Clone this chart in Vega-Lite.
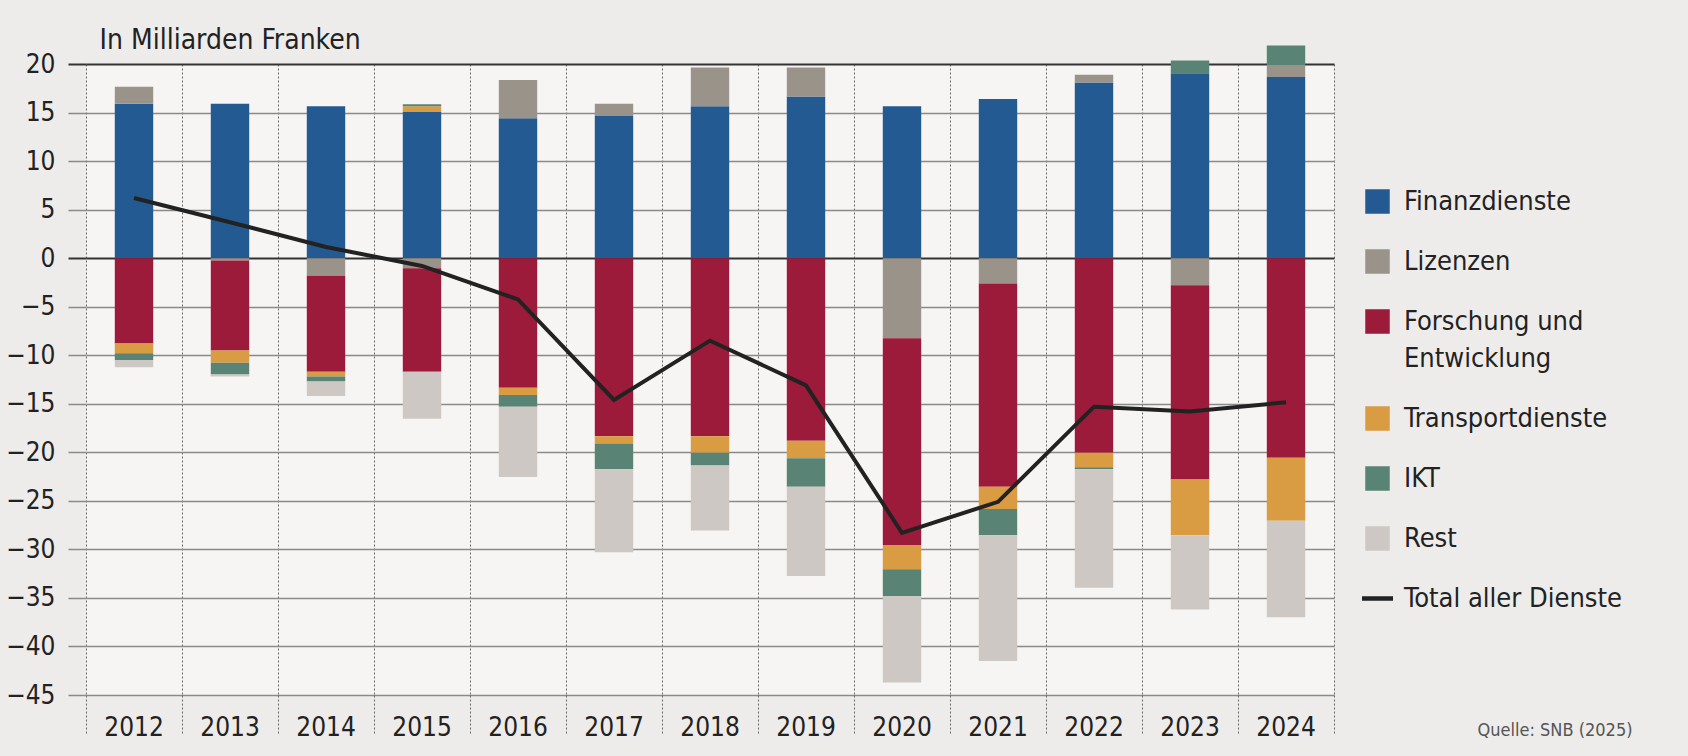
{
  "$schema": "https://vega.github.io/schema/vega-lite/v6.json",
  "width": 1248,
  "height": 631,
  "autosize": {"type": "none"},
  "padding": {"left": 86, "top": 64, "right": 354, "bottom": 61},
  "background": "#eeecea",
  "config": {
    "font": "DejaVu Sans Condensed, DejaVu Sans, sans-serif",
    "view": {"fill": "#f6f5f3", "stroke": null}
  },
  "datasets": {
    "bars": [
      {"year": "2012", "category": "Finanzdienste", "value": 15.9},
      {"year": "2012", "category": "Lizenzen", "value": 1.75},
      {"year": "2012", "category": "Forschung und Entwicklung", "value": -8.8},
      {"year": "2012", "category": "Transportdienste", "value": -1.0},
      {"year": "2012", "category": "IKT", "value": -0.7},
      {"year": "2012", "category": "Rest", "value": -0.75},
      {"year": "2013", "category": "Finanzdienste", "value": 15.9},
      {"year": "2013", "category": "Lizenzen", "value": -0.25},
      {"year": "2013", "category": "Forschung und Entwicklung", "value": -9.25},
      {"year": "2013", "category": "Transportdienste", "value": -1.28},
      {"year": "2013", "category": "IKT", "value": -1.2},
      {"year": "2013", "category": "Rest", "value": -0.2},
      {"year": "2014", "category": "Finanzdienste", "value": 15.65},
      {"year": "2014", "category": "Lizenzen", "value": -1.8},
      {"year": "2014", "category": "Forschung und Entwicklung", "value": -9.9},
      {"year": "2014", "category": "Transportdienste", "value": -0.5},
      {"year": "2014", "category": "IKT", "value": -0.5},
      {"year": "2014", "category": "Rest", "value": -1.5},
      {"year": "2015", "category": "Finanzdienste", "value": 15.1},
      {"year": "2015", "category": "Transportdienste", "value": 0.55},
      {"year": "2015", "category": "IKT", "value": 0.2},
      {"year": "2015", "category": "Lizenzen", "value": -1.05},
      {"year": "2015", "category": "Forschung und Entwicklung", "value": -10.65},
      {"year": "2015", "category": "Rest", "value": -4.85},
      {"year": "2016", "category": "Finanzdienste", "value": 14.4},
      {"year": "2016", "category": "Lizenzen", "value": 3.95},
      {"year": "2016", "category": "Forschung und Entwicklung", "value": -13.35},
      {"year": "2016", "category": "Transportdienste", "value": -0.75},
      {"year": "2016", "category": "IKT", "value": -1.2},
      {"year": "2016", "category": "Rest", "value": -7.25},
      {"year": "2017", "category": "Finanzdienste", "value": 14.65},
      {"year": "2017", "category": "Lizenzen", "value": 1.25},
      {"year": "2017", "category": "Forschung und Entwicklung", "value": -18.35},
      {"year": "2017", "category": "Transportdienste", "value": -0.75},
      {"year": "2017", "category": "IKT", "value": -2.65},
      {"year": "2017", "category": "Rest", "value": -8.55},
      {"year": "2018", "category": "Finanzdienste", "value": 15.65},
      {"year": "2018", "category": "Lizenzen", "value": 4.0},
      {"year": "2018", "category": "Forschung und Entwicklung", "value": -18.35},
      {"year": "2018", "category": "Transportdienste", "value": -1.7},
      {"year": "2018", "category": "IKT", "value": -1.3},
      {"year": "2018", "category": "Rest", "value": -6.7},
      {"year": "2019", "category": "Finanzdienste", "value": 16.65},
      {"year": "2019", "category": "Lizenzen", "value": 3.0},
      {"year": "2019", "category": "Forschung und Entwicklung", "value": -18.8},
      {"year": "2019", "category": "Transportdienste", "value": -1.8},
      {"year": "2019", "category": "IKT", "value": -2.95},
      {"year": "2019", "category": "Rest", "value": -9.2},
      {"year": "2020", "category": "Finanzdienste", "value": 15.65},
      {"year": "2020", "category": "Lizenzen", "value": -8.25},
      {"year": "2020", "category": "Forschung und Entwicklung", "value": -21.3},
      {"year": "2020", "category": "Transportdienste", "value": -2.5},
      {"year": "2020", "category": "IKT", "value": -2.75},
      {"year": "2020", "category": "Rest", "value": -8.9},
      {"year": "2021", "category": "Finanzdienste", "value": 16.4},
      {"year": "2021", "category": "Lizenzen", "value": -2.6},
      {"year": "2021", "category": "Forschung und Entwicklung", "value": -20.95},
      {"year": "2021", "category": "Transportdienste", "value": -2.3},
      {"year": "2021", "category": "IKT", "value": -2.7},
      {"year": "2021", "category": "Rest", "value": -12.95},
      {"year": "2022", "category": "Finanzdienste", "value": 18.1},
      {"year": "2022", "category": "Lizenzen", "value": 0.8},
      {"year": "2022", "category": "Forschung und Entwicklung", "value": -20.05},
      {"year": "2022", "category": "Transportdienste", "value": -1.5},
      {"year": "2022", "category": "IKT", "value": -0.2},
      {"year": "2022", "category": "Rest", "value": -12.2},
      {"year": "2023", "category": "Finanzdienste", "value": 19.05},
      {"year": "2023", "category": "IKT", "value": 1.3},
      {"year": "2023", "category": "Lizenzen", "value": -2.8},
      {"year": "2023", "category": "Forschung und Entwicklung", "value": -20.0},
      {"year": "2023", "category": "Transportdienste", "value": -5.75},
      {"year": "2023", "category": "Rest", "value": -7.65},
      {"year": "2024", "category": "Finanzdienste", "value": 18.65},
      {"year": "2024", "category": "Lizenzen", "value": 1.25},
      {"year": "2024", "category": "IKT", "value": 2.0},
      {"year": "2024", "category": "Forschung und Entwicklung", "value": -20.55},
      {"year": "2024", "category": "Transportdienste", "value": -6.5},
      {"year": "2024", "category": "Rest", "value": -9.95}
    ],
    "total": [
      {"year": "2012", "total": 6.2},
      {"year": "2013", "total": 3.7},
      {"year": "2014", "total": 1.15},
      {"year": "2015", "total": -0.8},
      {"year": "2016", "total": -4.25},
      {"year": "2017", "total": -14.6},
      {"year": "2018", "total": -8.5},
      {"year": "2019", "total": -13.1},
      {"year": "2020", "total": -28.3},
      {"year": "2021", "total": -25.1},
      {"year": "2022", "total": -15.3},
      {"year": "2023", "total": -15.8},
      {"year": "2024", "total": -14.85}
    ]
  },
  "layer": [
    {
      "data": {"name": "bars"},
      "transform": [
        {"calculate": "indexof(['Finanzdienste', 'Lizenzen', 'Forschung und Entwicklung', 'Transportdienste', 'IKT', 'Rest'], datum.category)", "as": "stackOrder"}
      ],
      "mark": {"type": "bar", "width": {"band": 0.4}},
      "encoding": {
        "x": {
          "field": "year",
          "type": "ordinal",
          "scale": {"paddingInner": 0, "paddingOuter": 0},
          "axis": {
            "title": "Quelle: SNB (2025)",
            "titleX": 1546,
            "titleY": 40,
            "titleAlign": "right",
            "titleAnchor": null,
            "titleBaseline": "alphabetic",
            "titleFontSize": 18,
            "titleFontWeight": "normal",
            "titleColor": "#555555",
            "labelAngle": 0,
            "labelFontSize": 26,
            "labelColor": "#222222",
            "labelBaseline": "alphabetic",
            "labelPadding": 0,
            "domain": false,
            "grid": true,
            "gridColor": "#666666",
            "gridDash": [2, 2],
            "gridWidth": 1,
            "ticks": true,
            "tickSize": 40,
            "tickColor": "#666666",
            "tickDash": [2, 2],
            "tickWidth": 1,
            "bandPosition": 1,
            "tickExtra": true
          }
        },
        "y": {
          "field": "value",
          "type": "quantitative",
          "stack": "zero",
          "scale": {"domain": [-45, 20], "nice": false, "zero": false},
          "axis": {
            "title": "In Milliarden Franken",
            "titleAngle": 0,
            "titleX": 13,
            "titleY": -16,
            "titleAlign": "left",
            "titleAnchor": null,
            "titleBaseline": "alphabetic",
            "titleFontSize": 28,
            "titleFontWeight": "normal",
            "titleColor": "#222222",
            "values": [-45, -40, -35, -30, -25, -20, -15, -10, -5, 0, 5, 10, 15, 20],
            "format": "d",
            "labelExpr": "replace(datum.label, '-', '–')",
            "labelFontSize": 26,
            "labelColor": "#222222",
            "labelPadding": 13,
            "domain": false,
            "grid": true,
            "gridColor": {"condition": {"test": "datum.value === 0 || datum.value === 20", "value": "#333333"}, "value": "#8a8a8a"},
            "gridWidth": {"condition": {"test": "datum.value === 0 || datum.value === 20", "value": 2}, "value": 1.5},
            "ticks": true,
            "tickSize": 18,
            "tickColor": {"condition": {"test": "datum.value === 0 || datum.value === 20", "value": "#333333"}, "value": "#8a8a8a"},
            "tickWidth": {"condition": {"test": "datum.value === 0 || datum.value === 20", "value": 2}, "value": 1.5}
          }
        },
        "color": {
          "field": "category",
          "type": "nominal",
          "scale": {
            "domain": ["Finanzdienste", "Lizenzen", "Forschung und Entwicklung", "Transportdienste", "IKT", "Rest", "Total aller Dienste"],
            "range": ["#245a92", "#9a9389", "#9c1a3a", "#d99c43", "#588375", "#cdc8c3", "#222222"]
          },
          "legend": {
            "title": null,
            "orient": "none",
            "legendX": 1278,
            "legendY": 124,
            "padding": 0,
            "symbolType": "square",
            "symbolSize": 600,
            "symbolStrokeWidth": 0,
            "labelFontSize": 27,
            "labelColor": "#222222",
            "labelOffset": 13,
            "labelLimit": 400,
            "rowPadding": 32,
            "labelExpr": "datum.label === 'Forschung und Entwicklung' ? ['Forschung und', 'Entwicklung'] : datum.label",
            "encode": {
              "symbols": {
                "update": {
                  "shape": {"signal": "datum.value === 'Total aller Dienste' ? 'stroke' : 'square'"},
                  "size": {"signal": "datum.value === 'Total aller Dienste' ? 961 : 600"},
                  "stroke": {"signal": "datum.value === 'Total aller Dienste' ? '#222222' : 'transparent'"},
                  "strokeWidth": {"signal": "datum.value === 'Total aller Dienste' ? 4.5 : 0"}
                }
              },
              "labels": {
                "update": {
                  "lineHeight": {"value": 37}
                }
              }
            }
          }
        },
        "order": {"field": "stackOrder", "type": "quantitative", "sort": "ascending"}
      }
    },
    {
      "data": {"name": "total"},
      "mark": {"type": "line", "color": "#222222", "strokeWidth": 4},
      "encoding": {
        "x": {"field": "year", "type": "ordinal"},
        "y": {"field": "total", "type": "quantitative"}
      }
    }
  ]
}
